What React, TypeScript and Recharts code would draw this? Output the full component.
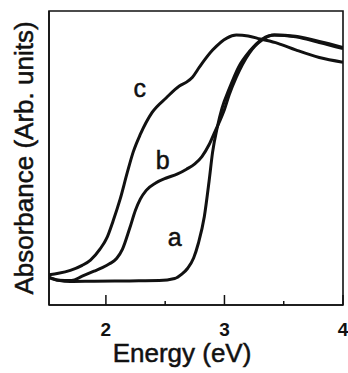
import { LineChart, Line, XAxis, YAxis, ReferenceDot, ReferenceArea } from 'recharts';

const energyA = [1.52, 1.6, 1.7, 1.9, 2.2, 2.45, 2.58, 2.64, 2.69, 2.74, 2.78, 2.83, 2.87, 2.9, 2.94, 2.98, 3.04, 3.12, 3.21, 3.32, 3.42, 3.6, 3.8, 4.0];
const absA = [0.095, 0.084, 0.08, 0.081, 0.082, 0.083, 0.09, 0.105, 0.125, 0.16, 0.21, 0.3, 0.42, 0.52, 0.605, 0.67, 0.735, 0.81, 0.862, 0.905, 0.918, 0.912, 0.893, 0.872];

const energyB = [1.52, 1.6, 1.71, 1.8, 1.9, 1.97, 2.03, 2.09, 2.14, 2.2, 2.25, 2.29, 2.34, 2.42, 2.51, 2.6, 2.68, 2.75, 2.81, 2.87, 2.92, 2.96, 3.0, 3.04, 3.1, 3.21, 3.32, 3.42, 3.6, 3.8, 4.0];
const absB = [0.093, 0.084, 0.083, 0.098, 0.115, 0.127, 0.14, 0.158, 0.19, 0.26, 0.323, 0.36, 0.39, 0.415, 0.432, 0.445, 0.462, 0.48, 0.505, 0.545, 0.59, 0.625, 0.665, 0.715, 0.775, 0.857, 0.902, 0.918, 0.914, 0.896, 0.876];

const energyC = [1.52, 1.6, 1.7, 1.8, 1.87, 1.95, 2.01, 2.06, 2.12, 2.18, 2.23, 2.29, 2.39, 2.51, 2.62, 2.68, 2.73, 2.79, 2.9, 3.02, 3.1, 3.2, 3.3, 3.45, 3.6, 3.8, 4.0];
const absC = [0.103, 0.108, 0.118, 0.135, 0.153, 0.19, 0.23, 0.285, 0.36, 0.45, 0.52, 0.58, 0.655, 0.705, 0.745, 0.758, 0.775, 0.81, 0.867, 0.908, 0.918, 0.915, 0.905, 0.89, 0.868, 0.842, 0.826];

const xTicks = [2, 2.5, 3, 3.5, 4];
const curveLabels = [
  { name: 'c', x: 2.286, y: 0.738 },
  { name: 'b', x: 2.48, y: 0.493 },
  { name: 'a', x: 2.58, y: 0.231 },
];

const toPoints = (xs: number[], ys: number[]) => xs.map((x, i) => ({ x, y: ys[i] }));
const FONT = '"Liberation Sans", Arial, sans-serif';
const INK = '#111';

function EnergyTick(props: any) {
  const { x, y, payload } = props;
  const v = payload.value as number;
  const major = Number.isInteger(v);
  return (
    <g>
      <line x1={x} x2={x} y1={y} y2={y - (major ? 10 : 4)} stroke={INK} strokeWidth={1.5} />
      {major && (
        <text x={x} y={y + 31} textAnchor="middle" fontFamily={FONT} fontSize={19} fontWeight="bold" fill={INK}>
          {v}
        </text>
      )}
    </g>
  );
}

export default function App() {
  return (
    <div style={{ position: 'absolute', left: 0, top: 0, background: '#fff' }}>
      <LineChart width={348} height={373} margin={{ top: 11, right: 5, bottom: 0, left: 0 }}>
        <XAxis
          type="number"
          dataKey="x"
          domain={[1.52, 4]}
          ticks={xTicks}
          allowDataOverflow
          height={68}
          tickSize={0}
          tickMargin={0}
          tickLine={false}
          tick={<EnergyTick />}
          axisLine={{ stroke: INK, strokeWidth: 1.5 }}
          label={{
            content: (p: any) => (
              <text x={p.viewBox.x + p.viewBox.width / 2 - 14} y={p.viewBox.y + 57} textAnchor="middle" fontFamily={FONT} fontSize={26} fill={INK} stroke={INK} strokeWidth={0.5}>
                Energy (eV)
              </text>
            ),
          }}
        />
        <YAxis
          type="number"
          domain={[0, 1]}
          allowDataOverflow
          width={49}
          tick={false}
          tickLine={false}
          axisLine={{ stroke: INK, strokeWidth: 1.5 }}
          label={{
            content: (p: any) => {
              const cy = p.viewBox.y + p.viewBox.height / 2;
              return (
                <text x={33} y={cy} transform={`rotate(-90, 33, ${cy})`} textAnchor="middle" fontFamily={FONT} fontSize={26} fill={INK} stroke={INK} strokeWidth={0.5}>
                  Absorbance (Arb. units)
                </text>
              );
            },
          }}
        />
        <ReferenceArea x1={1.52} x2={4} y1={0} y2={1} fill="none" stroke={INK} strokeWidth={1.6} />
        <Line data={toPoints(energyA, absA)} dataKey="y" type="monotone" stroke={INK} strokeWidth={3} dot={false} isAnimationActive={false} />
        <Line data={toPoints(energyB, absB)} dataKey="y" type="monotone" stroke={INK} strokeWidth={3} dot={false} isAnimationActive={false} />
        <Line data={toPoints(energyC, absC)} dataKey="y" type="monotone" stroke={INK} strokeWidth={3} dot={false} isAnimationActive={false} />
        {curveLabels.map((l) => (
          <ReferenceDot
            key={l.name}
            x={l.x}
            y={l.y}
            r={0}
            stroke="none"
            fill="none"
            label={{ value: l.name, position: 'center', fontFamily: FONT, fontSize: 25, fill: INK, stroke: INK, strokeWidth: 0.5 }}
          />
        ))}
      </LineChart>
    </div>
  );
}
